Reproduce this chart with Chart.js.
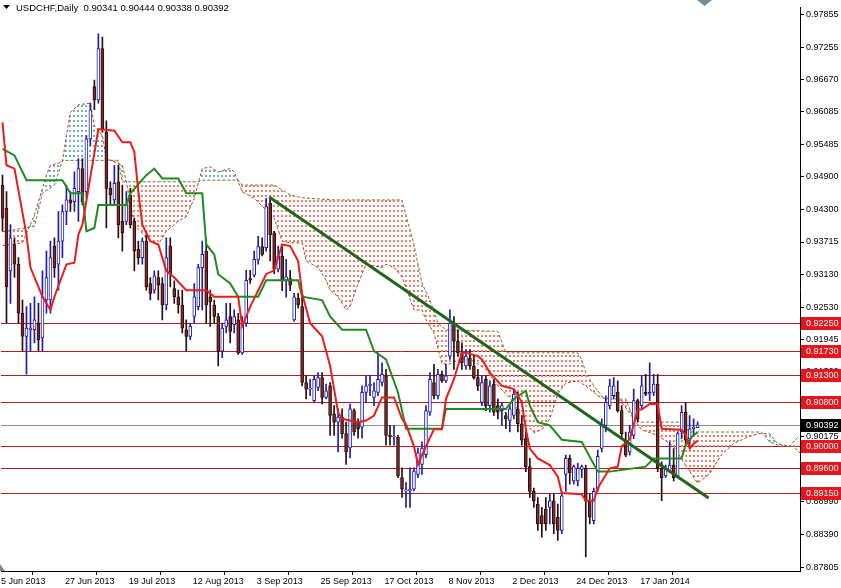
<!DOCTYPE html>
<html>
<head>
<meta charset="utf-8">
<title>USDCHF Daily</title>
<script src="https://cdn.jsdelivr.net/npm/chart.js@4.4.1/dist/chart.umd.min.js"></script>
<style>
  html, body { margin: 0; padding: 0; background: #fff; }
  canvas { display: block; }
</style>
</head>
<body>
<canvas id="myChart" width="841" height="588"></canvas>
<script>
// Date ticks (one every 16 bars)
const tickIndex = [0, 16, 32, 48, 64, 80, 96, 112, 128, 144, 160];
const dateLabels = ['5 Jun 2013', '27 Jun 2013', '19 Jul 2013', '12 Aug 2013', '3 Sep 2013', '25 Sep 2013',
    '17 Oct 2013', '8 Nov 2013', '2 Dec 2013', '24 Dec 2013', '17 Jan 2014'];

// Price axis labels
const priceTicks = [0.97855, 0.97255, 0.96670, 0.96085, 0.95485, 0.94900, 0.94300, 0.93715, 0.93130,
    0.92530, 0.91945, 0.91360, 0.90775, 0.90175, 0.89590, 0.88990, 0.88390, 0.87805];

// Daily candles
const open = [0.9475,0.9433,0.9319,0.9367,0.9331,0.9242,0.9200,0.9212,0.9212,0.9224,
    0.9197,0.9266,0.9266,0.9364,0.9331,0.9373,0.9427,0.9448,0.9445,0.9463,
    0.9505,0.9463,0.9559,0.9654,0.9630,0.9723,0.9571,0.9469,0.9448,0.9481,
    0.9409,0.9409,0.9457,0.9409,0.9358,0.9343,0.9373,0.9296,0.9284,0.9307,
    0.9296,0.9257,0.9364,0.9287,0.9272,0.9257,0.9212,0.9200,0.9236,0.9254,
    0.9325,0.9355,0.9272,0.9257,0.9236,0.9173,0.9218,0.9236,0.9221,0.9230,
    0.9170,0.9224,0.9305,0.9311,0.9339,0.9363,0.9361,0.9442,0.9388,0.9322,
    0.9346,0.9302,0.9305,0.9230,0.9269,0.9254,0.9116,0.9104,0.9083,0.9107,
    0.9125,0.9089,0.9110,0.9059,0.9044,0.9053,0.9023,0.8997,0.9065,0.9044,
    0.9035,0.9098,0.9110,0.9089,0.9098,0.9116,0.9128,0.9020,0.9017,0.9017,
    0.8943,0.8919,0.8919,0.8922,0.8949,0.8967,0.8985,0.9062,0.9116,0.9092,
    0.9131,0.9119,0.9164,0.9224,0.9191,0.9170,0.9146,0.9161,0.9146,0.9125,
    0.9080,0.9122,0.9074,0.9113,0.9074,0.9065,0.9056,0.9047,0.9056,0.9068,
    0.9041,0.9014,0.8963,0.8918,0.8895,0.8874,0.8886,0.8889,0.8901,0.8871,
    0.8847,0.8949,0.8978,0.8937,0.8937,0.8958,0.8960,0.8901,0.8865,0.8922,
    0.8996,0.9038,0.9074,0.9092,0.9098,0.9065,0.9011,0.8990,0.9020,0.9083,
    0.9074,0.9098,0.9095,0.9098,0.9113,0.8960,0.8946,0.8955,0.8966,0.8946,
    0.9026,0.9062,0.9014,0.9032,0.90341];
const high = [0.9493,0.9463,0.9403,0.9379,0.9343,0.9266,0.9254,0.9260,0.9272,0.9260,
    0.9319,0.9355,0.9373,0.9379,0.9427,0.9439,0.9475,0.9463,0.9499,0.9523,
    0.9523,0.9565,0.9624,0.9666,0.9750,0.9744,0.9592,0.9481,0.9511,0.9511,
    0.9475,0.9463,0.9469,0.9415,0.9373,0.9379,0.9385,0.9307,0.9319,0.9319,
    0.9307,0.9379,0.9379,0.9301,0.9284,0.9284,0.9230,0.9224,0.9296,0.9331,
    0.9373,0.9376,0.9284,0.9266,0.9242,0.9224,0.9260,0.9260,0.9248,0.9242,
    0.9236,0.9320,0.9320,0.9355,0.9382,0.9379,0.9451,0.9451,0.9391,0.9364,
    0.9367,0.9340,0.9320,0.9278,0.9278,0.9272,0.9128,0.9122,0.9128,0.9134,
    0.9134,0.9113,0.9116,0.9074,0.9068,0.9068,0.9044,0.9077,0.9068,0.9050,
    0.9110,0.9128,0.9129,0.9116,0.9170,0.9152,0.9140,0.9038,0.9038,0.9020,
    0.8961,0.8934,0.8961,0.8961,0.8997,0.9008,0.9074,0.9134,0.9149,0.9140,
    0.9137,0.9149,0.9248,0.9236,0.9212,0.9188,0.9176,0.9176,0.9164,0.9140,
    0.9128,0.9128,0.9119,0.9122,0.9086,0.9080,0.9062,0.9074,0.9104,0.9098,
    0.9056,0.9026,0.8978,0.8924,0.8907,0.8889,0.8907,0.8913,0.8913,0.8895,
    0.8918,0.8984,0.8984,0.8966,0.8969,0.8966,0.8966,0.8913,0.8924,0.8993,
    0.9050,0.9092,0.9122,0.9125,0.9119,0.9074,0.9026,0.9038,0.9104,0.9086,
    0.9128,0.9131,0.9152,0.9131,0.9131,0.8972,0.8966,0.9008,0.8996,0.9026,
    0.9074,0.9080,0.9056,0.9050,0.90444];
const low = [0.9391,0.9224,0.9260,0.9307,0.9224,0.9173,0.9131,0.9173,0.9188,0.9173,
    0.9173,0.9242,0.9242,0.9307,0.9284,0.9343,0.9403,0.9427,0.9427,0.9409,
    0.9439,0.9451,0.9547,0.9612,0.9624,0.9571,0.9397,0.9439,0.9439,0.9379,
    0.9355,0.9403,0.9397,0.9319,0.9331,0.9331,0.9284,0.9266,0.9278,0.9266,
    0.9230,0.9248,0.9290,0.9260,0.9242,0.9206,0.9173,0.9194,0.9224,0.9248,
    0.9248,0.9224,0.9218,0.9224,0.9146,0.9161,0.9206,0.9188,0.9206,0.9167,
    0.9167,0.9218,0.9296,0.9308,0.9331,0.9346,0.9355,0.9337,0.9314,0.9317,
    0.9283,0.9271,0.9283,0.9227,0.9251,0.9110,0.9086,0.9092,0.9080,0.9101,
    0.9077,0.9086,0.9020,0.9020,0.8990,0.9015,0.8967,0.8979,0.9020,0.9015,
    0.9015,0.9080,0.9092,0.9074,0.9092,0.9110,0.9002,0.9002,0.9002,0.8943,
    0.8907,0.8889,0.8889,0.8919,0.8943,0.8949,0.8979,0.9056,0.9086,0.9086,
    0.9116,0.9116,0.9158,0.9140,0.9164,0.9140,0.9140,0.9140,0.9122,0.9101,
    0.9074,0.9065,0.9062,0.9056,0.9050,0.9038,0.9032,0.9026,0.9050,0.9026,
    0.9002,0.8954,0.8907,0.8889,0.8847,0.8835,0.8847,0.8859,0.8841,0.8829,
    0.8841,0.8918,0.8931,0.8931,0.8928,0.8943,0.8799,0.8859,0.8859,0.8918,
    0.8990,0.9026,0.9068,0.9086,0.9062,0.9014,0.8981,0.8984,0.9014,0.9044,
    0.9068,0.9092,0.9083,0.9092,0.8954,0.8901,0.8943,0.8952,0.8937,0.8943,
    0.9014,0.9002,0.9002,0.9020,0.90338];
const close = [0.9415,0.9290,0.9379,0.9331,0.9242,0.9200,0.9215,0.9215,0.9230,0.9194,
    0.9272,0.9307,0.9343,0.9325,0.9373,0.9427,0.9448,0.9442,0.9469,0.9505,
    0.9445,0.9559,0.9612,0.9630,0.9723,0.9577,0.9469,0.9457,0.9478,0.9403,
    0.9388,0.9439,0.9403,0.9355,0.9343,0.9373,0.9290,0.9278,0.9310,0.9293,
    0.9257,0.9343,0.9313,0.9272,0.9257,0.9215,0.9200,0.9218,0.9272,0.9325,
    0.9349,0.9257,0.9263,0.9236,0.9173,0.9215,0.9230,0.9209,0.9236,0.9170,
    0.9224,0.9302,0.9302,0.9340,0.9363,0.9349,0.9436,0.9385,0.9322,0.9346,
    0.9302,0.9308,0.9293,0.9272,0.9257,0.9116,0.9104,0.9105,0.9122,0.9125,
    0.9089,0.9101,0.9056,0.9044,0.9053,0.9023,0.8990,0.9068,0.9026,0.9032,
    0.9098,0.9110,0.9113,0.9101,0.9122,0.9131,0.9020,0.9017,0.9017,0.8946,
    0.8922,0.8920,0.8922,0.8955,0.8988,0.8997,0.9065,0.9122,0.9092,0.9131,
    0.9119,0.9128,0.9224,0.9191,0.9170,0.9152,0.9164,0.9146,0.9125,0.9110,
    0.9116,0.9074,0.9110,0.9062,0.9062,0.9074,0.9050,0.9068,0.9095,0.9041,
    0.9011,0.8963,0.8918,0.8901,0.8859,0.8859,0.8859,0.8901,0.8859,0.8847,
    0.8910,0.8978,0.8952,0.8963,0.8960,0.8963,0.8901,0.8871,0.8918,0.8982,
    0.9038,0.9080,0.9110,0.9110,0.9065,0.9023,0.8984,0.9026,0.9083,0.9050,
    0.9110,0.9095,0.9098,0.9113,0.8960,0.8943,0.8958,0.8966,0.8943,0.9023,
    0.9062,0.9011,0.9032,0.9035,0.90392];

// Ichimoku lines, read as vertices (bar index, price)
const tenkanX = [0,1,3,6,7,10,12,13,16,18,19,20,24,28,30,32,33,34,35,37,39,41,43,46,51,53,59,60,62,66,68,70,72,74,75,77,80,82,84,85,89,91,93,95,98,100,101,103,104,106,108,110,111,113,115,116,119,120,122,125,128,130,131,132,134,137,139,140,145,146,148,149,152,154,155,157,159,160,162,164,165,170,171,172,173,174];
const tenkanY = [0.9589,0.9511,0.9505,0.9385,0.9325,0.9272,0.9248,0.9272,0.9331,0.9334,0.9385,0.9403,0.9577,0.9574,0.9553,0.9553,0.9535,0.9463,0.9403,0.9373,0.9367,0.9319,0.9307,0.9284,0.9284,0.9272,0.9272,0.9218,0.9254,0.9313,0.9320,0.9367,0.9364,0.9337,0.9278,0.9224,0.9200,0.9146,0.9062,0.9050,0.9044,0.9047,0.9056,0.9089,0.9089,0.9050,0.9040,0.9000,0.8967,0.9000,0.9031,0.9031,0.9086,0.9122,0.9170,0.9170,0.9164,0.9158,0.9134,0.9110,0.9104,0.9080,0.9031,0.8996,0.8978,0.8966,0.8945,0.8915,0.8913,0.8901,0.8901,0.8924,0.8960,0.8963,0.9000,0.9013,0.9067,0.9067,0.9077,0.9077,0.9032,0.9030,0.9021,0.8996,0.9005,0.9010];
const kijunX = [0,3,6,15,17,20,21,23,24,31,32,36,38,40,44,46,50,51,53,54,57,59,64,66,74,75,80,82,85,91,93,96,99,101,110,111,126,128,131,132,134,137,140,145,149,152,161,163,170,171,173,174];
const kijunY = [0.9541,0.9529,0.9484,0.9484,0.9460,0.9460,0.9391,0.9397,0.9439,0.9439,0.9460,0.9493,0.9505,0.9487,0.9487,0.9460,0.9460,0.9367,0.9349,0.9313,0.9296,0.9272,0.9272,0.9302,0.9302,0.9272,0.9266,0.9236,0.9212,0.9212,0.9173,0.9158,0.9098,0.9032,0.9032,0.9068,0.9068,0.9086,0.9101,0.9074,0.9044,0.9038,0.9012,0.9008,0.8954,0.8954,0.8963,0.8978,0.8978,0.9003,0.9021,0.9025];
const spanAX = [0,5,8,11,12,15,16,17,19,22,23,25,26,30,31,33,36,39,41,44,46,48,50,52,54,57,58,59,60,63,68,70,72,75,76,79,81,82,84,86,87,89,91,95,96,98,100,103,105,106,108,110,112,115,118,121,124,128,131,133,135,137,139,141,144,146,149,151,153,155,158,160,164,168,171,174,177,180,183,186,189,192,194,197,199];
const spanAY = [0.9365,0.9370,0.9421,0.9493,0.9511,0.9517,0.9565,0.9607,0.9621,0.9624,0.9583,0.9565,0.9523,0.9511,0.9481,0.9403,0.9379,0.9367,0.9391,0.9409,0.9418,0.9451,0.9505,0.9508,0.9499,0.9505,0.9499,0.9481,0.9463,0.9451,0.9415,0.9373,0.9370,0.9370,0.9337,0.9325,0.9302,0.9284,0.9272,0.9248,0.9254,0.9296,0.9331,0.9325,0.9331,0.9325,0.9308,0.9248,0.9248,0.9230,0.9206,0.9150,0.9150,0.9160,0.9155,0.9140,0.9110,0.9080,0.9040,0.9025,0.9030,0.9050,0.9095,0.9115,0.9119,0.9110,0.9092,0.9086,0.9095,0.9080,0.9050,0.9030,0.9020,0.9000,0.8965,0.8933,0.8950,0.8985,0.9005,0.9015,0.9023,0.9023,0.9005,0.9000,0.9016];
const spanBX = [0,8,10,13,15,29,30,49,50,59,60,68,72,75,83,100,101,103,105,107,109,111,124,126,144,145,146,148,150,151,156,158,160,170,172,190,192,195,198,200];
const spanBY = [0.9390,0.9400,0.9460,0.9475,0.9520,0.9520,0.9481,0.9481,0.9484,0.9484,0.9475,0.9475,0.9457,0.9452,0.9448,0.9448,0.9420,0.9367,0.9296,0.9266,0.9224,0.9212,0.9209,0.9170,0.9170,0.9158,0.9134,0.9110,0.9092,0.9086,0.9086,0.9050,0.9044,0.9044,0.9026,0.9026,0.9008,0.9000,0.9000,0.8985];

// Falling trend line
const trendX = [66.75, 176.75];
const trendY = [0.94534, 0.89060];

// Horizontal levels and last price
const levels = [0.9225, 0.9173, 0.9130, 0.9080, 0.9000, 0.8960, 0.8915];
const lastPrice = 0.90392;
const title = 'USDCHF,Daily  0.90341 0.90444 0.90338 0.90392';

const canvas = document.getElementById('myChart');
const mainCtx = canvas.getContext('2d');

// dotted hatch used by the cloud, one column per bar
function makeHatch(color) {
    const c = document.createElement('canvas');
    c.width = 4;
    c.height = 5;
    const g = c.getContext('2d');
    g.fillStyle = color;
    g.fillRect(1, 0, 2, 2);
    return mainCtx.createPattern(c, 'repeat');
}
const redHatch = makeHatch('#f0806a');
const tealHatch = makeHatch('#6ab4bc');

const toPoints = (xs, ys) => xs.map((x, k) => ({x: x, y: ys[k]}));
const isBull = open.map((o, i) => close[i] >= o);

const FONT = 'Liberation Sans, Arial, sans-serif';

const overlay = {
    id: 'overlay',
    beforeDatasetsDraw(chart) {
        const {ctx, chartArea: a, scales: {y}} = chart;
        ctx.save();
        ctx.lineWidth = 1;
        ctx.strokeStyle = '#b01f1f';
        levels.forEach(v => {
            const py = Math.round(y.getPixelForValue(v)) + 0.5;
            ctx.beginPath();
            ctx.moveTo(a.left, py);
            ctx.lineTo(a.right, py);
            ctx.stroke();
        });
        ctx.strokeStyle = '#8c8c8c';
        const lp = Math.round(y.getPixelForValue(lastPrice)) + 0.5;
        ctx.beginPath();
        ctx.moveTo(a.left, lp);
        ctx.lineTo(a.right, lp);
        ctx.stroke();
        ctx.restore();
    },
    afterDraw(chart) {
        const {ctx, chartArea: a, scales: {y}} = chart;
        ctx.save();
        ctx.font = '9px ' + FONT;
        ctx.textBaseline = 'middle';
        ctx.textAlign = 'left';
        const box = (v, bg) => {
            const py = Math.round(y.getPixelForValue(v));
            ctx.fillStyle = bg;
            ctx.fillRect(a.right + 1, py - 6, 41, 13);
            ctx.fillStyle = '#fff';
            ctx.fillText(v.toFixed(5), a.right + 6, py + 0.5);
        };
        levels.forEach(v => box(v, '#e5161c'));
        box(lastPrice, '#000');

        // title
        ctx.fillStyle = '#000';
        ctx.beginPath();
        ctx.moveTo(3, 5);
        ctx.lineTo(10, 5);
        ctx.lineTo(6.5, 9);
        ctx.closePath();
        ctx.fill();
        ctx.font = '9.5px ' + FONT;
        ctx.fillText(title, 16, 8);

        // chart shift markers
        ctx.fillStyle = '#7d8a94';
        ctx.beginPath();
        ctx.moveTo(697, 0);
        ctx.lineTo(712, 0);
        ctx.lineTo(704.5, 6);
        ctx.closePath();
        ctx.fill();
        ctx.beginPath();
        ctx.moveTo(0, 564);
        ctx.lineTo(0, a.bottom);
        ctx.lineTo(5, a.bottom);
        ctx.closePath();
        ctx.fill();
        ctx.restore();
    }
};

new Chart(canvas, {
    type: 'bar',
    data: {
        datasets: [{
            // wicks
            data: low.map((l, i) => ({x: i, y: [l, high[i]]})),
            backgroundColor: isBull.map(b => b ? '#1c1cb0' : '#2a0c0c'),
            barThickness: 1,
            grouped: false,
            order: 6
        }, {
            // bodies
            data: open.map((o, i) => ({x: i, y: [o, close[i]]})),
            backgroundColor: isBull.map(b => b ? '#ffffff' : '#7e2828'),
            borderColor: isBull.map(b => b ? '#1c1cb0' : '#2a0c0c'),
            borderWidth: 1,
            borderSkipped: false,
            barThickness: 3,
            minBarLength: 1,
            grouped: false,
            order: 5
        }, {
            // senkou span A, filled against span B
            type: 'line',
            data: toPoints(spanAX, spanAY),
            borderColor: '#b0442a',
            borderWidth: 1,
            borderDash: [3, 2],
            pointRadius: 0,
            fill: {target: 3, above: tealHatch, below: redHatch},
            order: 10
        }, {
            type: 'line',
            data: toPoints(spanBX, spanBY),
            borderColor: '#5a7d2c',
            borderWidth: 1,
            borderDash: [3, 2],
            pointRadius: 0,
            fill: false,
            order: 11
        }, {
            type: 'line',
            data: toPoints(kijunX, kijunY),
            borderColor: '#1f8a1f',
            borderWidth: 2,
            pointRadius: 0,
            fill: false,
            order: 3
        }, {
            type: 'line',
            data: toPoints(tenkanX, tenkanY),
            borderColor: '#ea1c1c',
            borderWidth: 2,
            pointRadius: 0,
            fill: false,
            order: 2
        }, {
            type: 'line',
            data: toPoints(trendX, trendY),
            borderColor: '#1e661e',
            borderWidth: 3,
            pointRadius: 0,
            fill: false,
            order: 1
        }]
    },
    options: {
        responsive: false,
        animation: false,
        layout: { padding: 0 },
        plugins: {
            legend: { display: false },
            tooltip: { enabled: false }
        },
        scales: {
            x: {
                type: 'linear',
                min: -0.375,
                max: 199.625,
                offset: false,
                afterBuildTicks: s => { s.ticks = tickIndex.map(v => ({value: v - 0.375})); },
                afterFit: s => { s.height = 17; },
                ticks: {
                    callback: (v, k) => dateLabels[k],
                    align: 'start',
                    maxRotation: 0,
                    autoSkip: false,
                    color: '#000',
                    padding: 1,
                    font: { family: FONT, size: 9 }
                },
                grid: { drawOnChartArea: false, tickLength: 4, color: '#000' },
                border: { color: '#000' }
            },
            y: {
                position: 'right',
                min: 0.87733,
                max: 0.97981,
                afterBuildTicks: s => { s.ticks = priceTicks.map(v => ({value: v})); },
                afterFit: s => { s.width = 41; },
                ticks: {
                    callback: v => v.toFixed(5),
                    autoSkip: false,
                    color: '#000',
                    padding: 2,
                    font: { family: FONT, size: 9 }
                },
                grid: { drawOnChartArea: false, tickLength: 4, color: '#000' },
                border: { color: '#000' }
            }
        }
    },
    plugins: [overlay]
});
</script>
</body>
</html>
